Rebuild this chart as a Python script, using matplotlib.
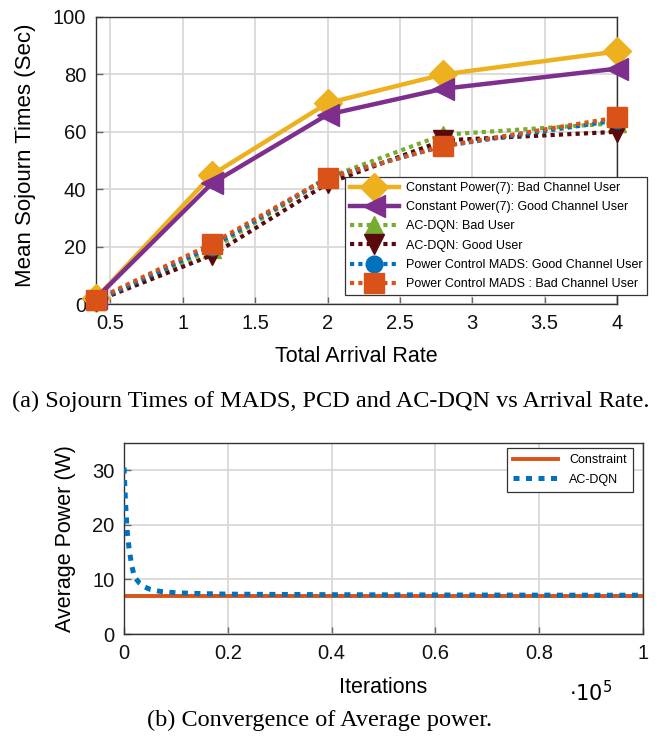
import numpy as np
import matplotlib
matplotlib.use("Agg")
import matplotlib.pyplot as plt
from matplotlib.ticker import FuncFormatter

plt.rcParams['font.family'] = ['Liberation Sans', 'DejaVu Sans']

# ---- Data: top chart ----
arrival_rate = [0.4, 1.2, 2.0, 2.8, 4.0]
const_bad = [2, 45, 70, 80, 88]
const_good = [2, 42, 66, 75, 82]
acdqn_bad = [1, 19, 44, 59, 63]
acdqn_good = [1, 17, 42, 57, 60]
mads_good = [1, 20, 44, 55, 64]
mads_bad = [1.5, 21, 44, 55, 65]

# ---- Data: bottom chart ----
iterations = [0, 300, 600, 1000, 1500, 2000, 3000, 4000, 5000, 7000, 10000,
              15000, 20000, 30000, 40000, 60000, 80000, 100000]
avg_power = [30.5, 24, 19, 15.5, 12.5, 10.5, 9.3, 8.6, 8.2, 7.8, 7.55,
             7.4, 7.3, 7.25, 7.2, 7.15, 7.12, 7.1]
constraint = [7.0, 7.0]
constraint_x = [0, 100000]

c_yellow = '#EDB120'
c_purple = '#7E2F8E'
c_green = '#77AC30'
c_dred = '#5A0A0A'
c_blue = '#0072BD'
c_orange = '#D95319'

TICK_FS = 14.5
LAB_FS = 15.5
LEG_FS = 9

fig = plt.figure(figsize=(6.62, 7.41), dpi=100)

# ---------- Top axes ----------
ax1 = fig.add_axes([96 / 662, 1 - 304 / 741, 521 / 662, 287 / 741])
dash = (0, (1.0, 1.0))
common = dict(clip_on=False, zorder=3)
ax1.plot(arrival_rate, const_bad, color=c_yellow, lw=3.2, marker='D', ms=14,
         label='Constant Power(7): Bad Channel User', **common)
ax1.plot(arrival_rate, const_good, color=c_purple, lw=3.2, marker='<', ms=16,
         label='Constant Power(7): Good Channel User', **common)
ax1.plot(arrival_rate, acdqn_bad, color=c_green, lw=3, ls=dash, marker='^', ms=13,
         label='AC-DQN: Bad User', dash_capstyle='butt', **common)
ax1.plot(arrival_rate, acdqn_good, color=c_dred, lw=3, ls=dash, marker='v', ms=15,
         label='AC-DQN: Good User', dash_capstyle='butt', **common)
ax1.plot(arrival_rate, mads_good, color=c_blue, lw=3, ls=dash, marker='o', ms=12,
         label='Power Control MADS: Good Channel User', dash_capstyle='butt', **common)
ax1.plot(arrival_rate, mads_bad, color=c_orange, lw=3, ls=dash, marker='s', ms=14,
         label='Power Control MADS : Bad Channel User', dash_capstyle='butt', **common)
ax1.set_xlim(0.4, 4)
ax1.set_ylim(0, 100)
ax1.set_xticks([0.5, 1, 1.5, 2, 2.5, 3, 3.5, 4])
ax1.set_xticklabels(['0.5', '1', '1.5', '2', '2.5', '3', '3.5', '4'])
ax1.set_yticks([0, 20, 40, 60, 80, 100])
ax1.grid(True, color='#d6d6d6', lw=1.2)
ax1.set_axisbelow(True)
ax1.tick_params(direction='in', length=5, width=1.0, color='#666666',
                labelsize=TICK_FS, labelcolor='#111111')
ax1.tick_params(axis='x', pad=7)
ax1.tick_params(axis='y', pad=7)
ax1.set_xlabel('Total Arrival Rate', fontsize=LAB_FS, va='top')
ax1.xaxis.set_label_coords(0.5, -0.145)
ax1.set_ylabel('Mean Sojourn Times (Sec)', fontsize=LAB_FS + 0.5)
ax1.yaxis.set_label_coords(-0.115, 0.52)
for s in ax1.spines.values():
    s.set_color('#333333')
    s.set_linewidth(1.0)
leg1 = ax1.legend(loc='upper left', bbox_to_anchor=(345 / 662, 1 - 177 / 741),
                  bbox_transform=fig.transFigure, fontsize=LEG_FS, frameon=True,
                  fancybox=False, edgecolor='#333333', handlelength=3.9,
                  borderpad=0.4, labelspacing=0.58, handletextpad=0.55,
                  borderaxespad=0, framealpha=1)
leg1.get_frame().set_linewidth(0.9)

fig.text(331 / 662, 1 - 401 / 741,
         '(a) Sojourn Times of MADS, PCD and AC-DQN vs Arrival Rate.',
         ha='center', va='center', fontsize=17.5, family='Liberation Serif')

# ---------- Bottom axes ----------
ax2 = fig.add_axes([124 / 662, 1 - 634 / 741, 519 / 662, 191 / 741])
ax2.plot(constraint_x, constraint, color=c_orange, lw=2.8, label='Constraint', zorder=2)
ax2.plot(iterations, avg_power, color=c_blue, lw=3.6, ls=(0, (1.2, 1.3)),
         dash_capstyle='butt', label='AC-DQN', zorder=3)
ax2.set_xlim(0, 100000)
ax2.set_ylim(0, 35)
ax2.set_xticks([0, 20000, 40000, 60000, 80000, 100000])
ax2.xaxis.set_major_formatter(FuncFormatter(lambda v, p: '%g' % (v / 1e5)))
ax2.set_yticks([0, 10, 20, 30])
ax2.grid(True, color='#d6d6d6', lw=1.2)
ax2.set_axisbelow(True)
ax2.tick_params(direction='in', length=5, width=1.0, color='#666666',
                labelsize=TICK_FS, labelcolor='#111111')
ax2.tick_params(axis='x', pad=7)
ax2.tick_params(axis='y', pad=7)
ax2.set_xlabel('Iterations', fontsize=LAB_FS, va='top')
ax2.xaxis.set_label_coords(0.5, -0.225)
ax2.set_ylabel('Average Power (W)', fontsize=LAB_FS)
ax2.yaxis.set_label_coords(-0.092, 0.5)
for s in ax2.spines.values():
    s.set_color('#333333')
    s.set_linewidth(1.0)
ax2.text((591 - 124) / 519, (634 - 693) / 191, r'$\cdot10^5$', transform=ax2.transAxes,
         fontsize=15, ha='center', va='center')
leg2 = ax2.legend(loc='upper right', bbox_to_anchor=(633 / 662, 1 - 448 / 741),
                  bbox_transform=fig.transFigure, fontsize=LEG_FS, frameon=True,
                  fancybox=False, edgecolor='#333333', handlelength=3.6,
                  handletextpad=0.9, borderpad=0.5, labelspacing=0.6,
                  borderaxespad=0, framealpha=1)
leg2.get_frame().set_linewidth(0.9)

fig.text(320 / 662, 1 - 720 / 741, '(b) Convergence of Average power.',
         ha='center', va='center', fontsize=17.5, family='Liberation Serif')

fig.savefig('out.png', dpi=100)
